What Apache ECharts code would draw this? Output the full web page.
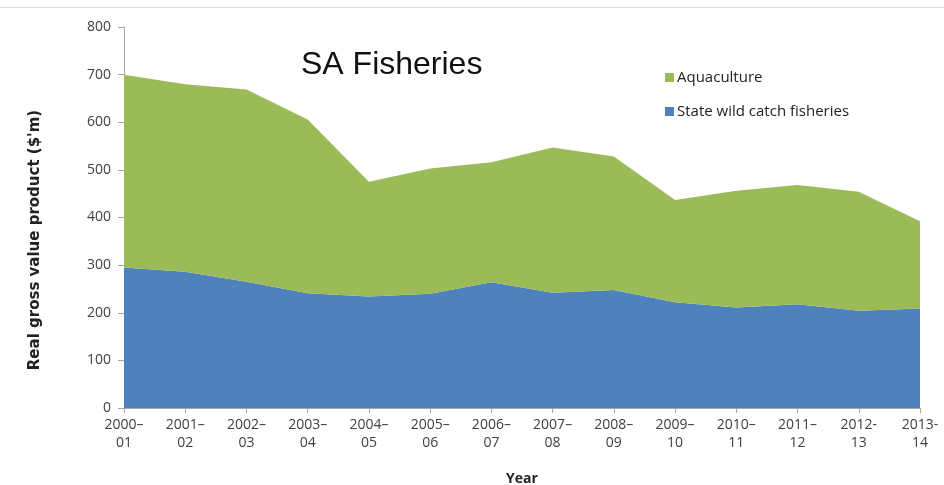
<!DOCTYPE html>
<html>
<head>
<meta charset="utf-8">
<script src="https://cdn.jsdelivr.net/npm/echarts@6/dist/echarts.min.js"></script>
<style>
  html, body { margin: 0; padding: 0; background: #fff; }
  #chart { width: 944px; height: 485px; }
</style>
</head>
<body>
<div id="chart"></div>
<script>
// Financial years (two-line labels)
var years = ['2000–\n01', '2001–\n02', '2002–\n03', '2003–\n04', '2004–\n05', '2005–\n06', '2006–\n07',
             '2007–\n08', '2008–\n09', '2009–\n10', '2010–\n11', '2011–\n12', '2012-\n13', '2013-\n14'];

// Real gross value product, $ million
var wildCatch   = [295, 286, 265, 241, 234, 240, 264, 242, 248, 222, 211, 218, 204, 209];
var aquaculture = [405, 394, 404, 365, 241, 263, 252, 305, 280, 215, 245, 250, 250, 183];

var yTicks = [0, 100, 200, 300, 400, 500, 600, 700, 800];
var yTitle = "Real gross value product ($'m)";

var chart = echarts.init(document.getElementById('chart'), null, { renderer: 'canvas' });
var txt = '#404040';
var font = 'Open Sans';

chart.setOption({
  animation: false,
  backgroundColor: '#ffffff',
  title: {
    text: 'SA Fisheries',
    left: 296,
    top: 44,
    textStyle: { fontFamily: 'Liberation Sans', fontSize: 32, fontWeight: 'normal', color: '#111' }
  },
  legend: {
    orient: 'vertical',
    left: 660,
    top: 65,
    itemGap: 19,
    itemWidth: 9,
    itemHeight: 9,
    icon: 'rect',
    data: ['Aquaculture', 'State wild catch fisheries'],
    textStyle: { fontFamily: font, fontSize: 15, color: '#222', padding: [0, 0, 0, -2] }
  },
  grid: { left: 124, right: 24, top: 27, bottom: 77, containLabel: false, outerBoundsMode: 'none' },
  xAxis: {
    type: 'category',
    data: years,
    boundaryGap: false,
    name: 'Year',
    nameLocation: 'middle',
    nameGap: 64,
    nameTextStyle: { fontFamily: font, fontSize: 14, fontWeight: 'bold', color: '#222' },
    axisLine: { lineStyle: { color: '#a6a6a6', width: 1 } },
    axisTick: { show: true, alignWithLabel: true, length: 5, lineStyle: { color: '#a6a6a6' } },
    axisLabel: { fontFamily: font, fontSize: 14, color: txt, lineHeight: 18, margin: 8, interval: 0 }
  },
  yAxis: {
    type: 'value',
    min: yTicks[0],
    max: yTicks[yTicks.length - 1],
    interval: 100,
    axisLine: { show: true, lineStyle: { color: '#a6a6a6', width: 1 } },
    axisTick: { show: true, length: 6, lineStyle: { color: '#a6a6a6' } },
    splitLine: { show: false },
    axisLabel: { fontFamily: font, fontSize: 14, color: txt, margin: 13 }
  },
  series: [
    {
      name: 'State wild catch fisheries',
      type: 'line',
      stack: 'total',
      data: wildCatch,
      symbol: 'none',
      lineStyle: { width: 0 },
      areaStyle: { color: '#4f81bd', opacity: 1 },
      itemStyle: { color: '#4f81bd' }
    },
    {
      name: 'Aquaculture',
      type: 'line',
      stack: 'total',
      data: aquaculture,
      symbol: 'none',
      lineStyle: { width: 0 },
      areaStyle: { color: '#9bbb59', opacity: 1 },
      itemStyle: { color: '#9bbb59' }
    }
  ],
  graphic: [
    {
      type: 'line',
      shape: { x1: 0, y1: 7.5, x2: 944, y2: 7.5 },
      style: { stroke: '#dcdcdc', lineWidth: 1 },
      silent: true
    },
    {
      // vertical value-axis title, sitting a little below the plot's midline
      type: 'text',
      x: 35,
      y: 240,
      rotation: Math.PI / 2,
      style: {
        text: yTitle,
        fontFamily: 'DejaVu Sans',
        fontSize: 15,
        fontWeight: 'bold',
        fill: '#222',
        align: 'center',
        verticalAlign: 'middle'
      },
      silent: true
    }
  ]
});
</script>
</body>
</html>
